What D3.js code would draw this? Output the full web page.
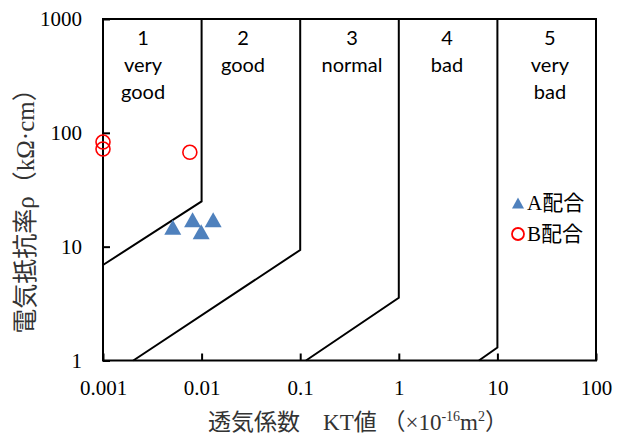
<!DOCTYPE html>
<html><head><meta charset="utf-8">
<script src="https://cdn.jsdelivr.net/npm/d3@7"></script>
<style>body{margin:0;background:#fff}svg{display:block}</style>
</head><body><svg id="c" width="628" height="437"></svg>
<script>
// ---- data ----
const xTicks = [0.001, 0.01, 0.1, 1, 10, 100];
const yTicks = [1, 10, 100, 1000];
const xTickLabels = ["0.001", "0.01", "0.1", "1", "10", "100"];
const yTickLabels = ["1", "10", "100", "1000"];

const seriesA_KT  = [0.0051, 0.0081, 0.0099, 0.0131];
const seriesA_rho = [14.8, 17.2, 13.5, 17.2];
const seriesB_KT  = [0.001, 0.001, 0.0076];
const seriesB_rho = [83, 72, 67.5];

const boundary1 = [[0.001, 6.9], [0.01, 25], [0.01, 1000]];
const boundary2 = [[0.00203, 1], [0.1, 9.35], [0.1, 1000]];
const boundary3 = [[0.1145, 1], [1, 3.56], [1, 1000]];
const boundary4 = [[6.5, 1], [10, 1.3], [10, 1000]];

const zoneNumbers = ["1", "2", "3", "4", "5"];
const zoneNames = [["very", "good"], ["good"], ["normal"], ["bad"], ["very", "bad"]];
const zoneLabelKT = [0.00255, 0.0263, 0.335, 3.08, 34.1];

const legendNames = ["A配合", "B配合"];

// ---- layout ----
const L = 103, R = 596, T = 19, B = 360.5;
const svg = d3.select("#c");
const x = d3.scaleLog().domain([0.001, 100]).range([L, R]);
const y = d3.scaleLog().domain([1, 1000]).range([B, T]);

const serif = "'Liberation Serif','Times New Roman','Noto Sans CJK JP',serif";
const sans = "Lato,'Noto Sans',sans-serif";

// boundaries
const line = d3.line().x(d => x(d[0])).y(d => y(d[1]));
[boundary1, boundary2, boundary3, boundary4].forEach(b => {
  svg.append("path").attr("d", line(b)).attr("fill", "none")
    .attr("stroke", "#000").attr("stroke-width", 2).attr("stroke-linejoin", "miter");
});

// frame
svg.append("rect").attr("x", L).attr("y", T).attr("width", R - L).attr("height", B - T)
  .attr("fill", "none").attr("stroke", "#000").attr("stroke-width", 2);

// axes (inward ticks)
const xAxis = d3.axisBottom(x).tickValues(xTicks).tickFormat((d, i) => xTickLabels[i])
  .tickSizeInner(-7).tickSizeOuter(0).tickPadding(16);
const gx = svg.append("g").attr("transform", `translate(0,${B})`).call(xAxis)
  .attr("font-family", null).attr("font-size", null);
gx.select(".domain").remove();
gx.selectAll(".tick line").attr("stroke", "#000").attr("stroke-width", 2);
gx.selectAll(".tick text").style("font-family", serif).style("font-size", "21px").attr("fill", "#000")
  .attr("y", 0).attr("dy", 0).attr("transform", "translate(0,34)");

const yAxis = d3.axisLeft(y).tickValues(yTicks).tickFormat((d, i) => yTickLabels[i])
  .tickSizeInner(-7).tickSizeOuter(0).tickPadding(21);
const gy = svg.append("g").attr("transform", `translate(${L},0)`).call(yAxis)
  .attr("font-family", null).attr("font-size", null);
gy.select(".domain").remove();
gy.selectAll(".tick line").attr("stroke", "#000").attr("stroke-width", 2);
gy.selectAll(".tick text").style("font-family", serif).style("font-size", "21px").attr("fill", "#000")
  .attr("dy", "0.33em");

// zone labels
const zl = svg.append("g").style("font-family", sans).style("font-size", "20px").attr("fill", "#000")
  .attr("text-anchor", "middle");
zoneNumbers.forEach((n, i) => {
  const t = zl.append("text").attr("x", x(zoneLabelKT[i])).attr("y", 45);
  t.append("tspan").attr("x", x(zoneLabelKT[i])).text(n);
  zoneNames[i].forEach((w, j) => {
    t.append("tspan").attr("x", x(zoneLabelKT[i])).attr("dy", 27).text(w);
  });
});

// markers
const triPath = (w, h) => `M0,${-h/2}L${w/2},${h/2}L${-w/2},${h/2}Z`;
svg.append("g").selectAll("path").data(seriesA_KT.map((k, i) => [k, seriesA_rho[i]]))
  .join("path").attr("d", triPath(17, 15))
  .attr("transform", d => `translate(${x(d[0])},${y(d[1])})`)
  .attr("fill", "#4F81BD");
svg.append("g").selectAll("circle").data(seriesB_KT.map((k, i) => [k, seriesB_rho[i]]))
  .join("circle").attr("cx", d => x(d[0])).attr("cy", d => y(d[1])).attr("r", 7)
  .attr("fill", "none").attr("stroke", "#FF0000").attr("stroke-width", 1.6);

// legend
const lg = svg.append("g");
lg.append("path").attr("d", triPath(12, 11)).attr("transform", "translate(518,203)").attr("fill", "#4F81BD");
lg.append("circle").attr("cx", 518).attr("cy", 234).attr("r", 6).attr("fill", "none")
  .attr("stroke", "#FF0000").attr("stroke-width", 1.8);
legendNames.forEach((n, i) => {
  lg.append("text").attr("x", 527).attr("y", 210 + i * 31).style("font-family", serif)
    .style("font-size", "21px").attr("fill", "#000").text(n);
});

// axis titles
const xt = svg.append("text").attr("x", 358).attr("y", 430).attr("text-anchor", "middle")
  .style("font-family", serif).style("font-size", "23px").attr("fill", "#333");
xt.append("tspan").text("透気係数　KT値 （×10");
xt.append("tspan").style("font-size", "14px").attr("dy", -9).text("-16");
xt.append("tspan").attr("dy", 9).text("m");
xt.append("tspan").style("font-size", "14px").attr("dy", -9).text("2");
xt.append("tspan").attr("dy", 9).text("）");

svg.append("text").attr("transform", `translate(34,205) rotate(-90)`)
  .attr("text-anchor", "middle").style("font-family", serif).style("font-size", "25px").attr("fill", "#333")
  .text("電気抵抗率ρ（kΩ·cm）");
</script></body></html>
